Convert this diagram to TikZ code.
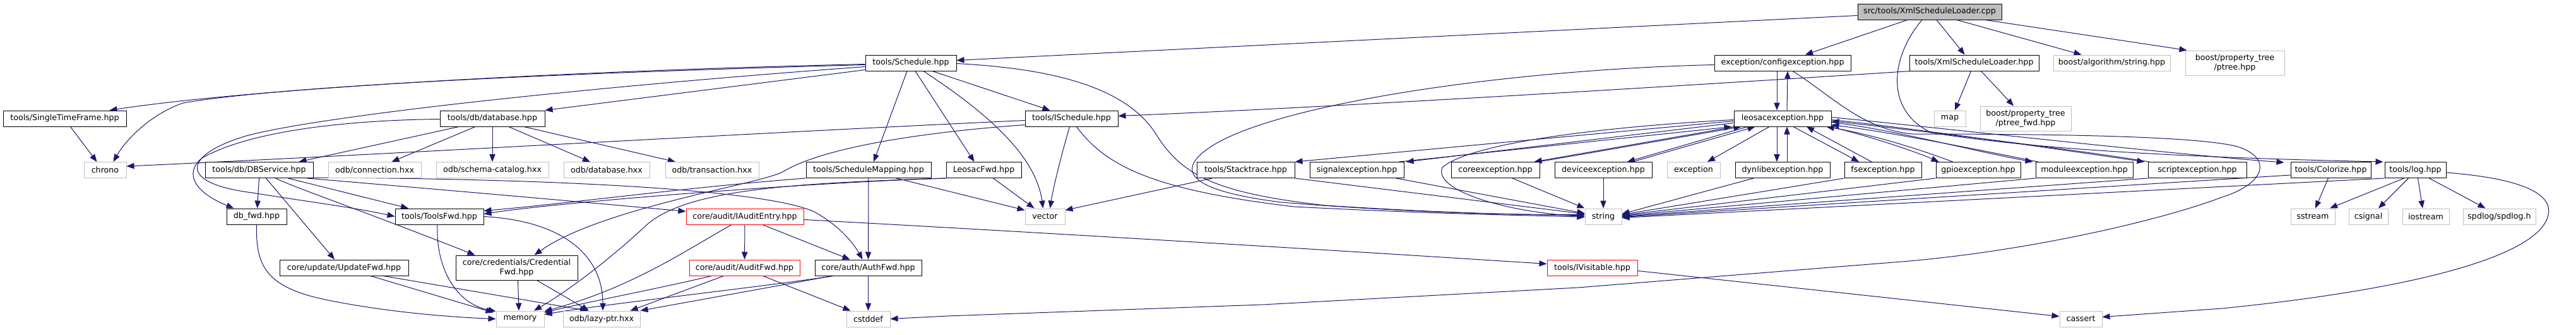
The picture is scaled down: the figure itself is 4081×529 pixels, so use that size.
\documentclass[tikz,border=0pt]{standalone}
\usepackage{fontspec}
\setmainfont{DejaVu Sans}
\usetikzlibrary{calc,arrows.meta}
\definecolor{edgec}{HTML}{191970}
\definecolor{extc}{HTML}{BFBFBF}
\definecolor{rootc}{HTML}{BFBFBF}
\pgfdeclarelayer{bg}
\pgfsetlayers{bg,main}
\tikzset{
 nd/.style={draw, line width=0.75pt, fill=white, minimum height=18.75pt, inner sep=0pt, font=\fontsize{9.5}{11}\selectfont, align=center},
 nb/.style={nd, draw=black},
 ng/.style={nd, draw=extc},
 nr/.style={nd, draw=red},
 e/.style={draw=edgec, line width=0.75pt, -{Triangle[length=9pt,width=7pt]}},
}
\begin{document}
\begin{tikzpicture}[x=0.75pt,y=-0.75pt]
\useasboundingbox (0,0) rectangle (4081,529);
% row 0
\node[nb, fill=rootc, minimum width=171pt] (root) at (3057,18.5) {src/tools/XmlScheduleLoader.cpp};
% row 1
\node[nb, minimum width=108pt] (sched) at (1443,99.5) {tools/Schedule.hpp};
\node[nb, minimum width=162pt] (cfgex) at (2824,99.5) {exception/configexception.hpp};
\node[nb, minimum width=153.75pt] (xmlh) at (3127.5,99.5) {tools/XmlScheduleLoader.hpp};
\node[ng, minimum width=138.75pt] (balgo) at (3345.5,99.5) {boost/algorithm/string.hpp};
\node[ng, minimum width=117.75pt, minimum height=29.25pt] (ptree) at (3540.5,99.5) {boost/property\_tree\\/ptree.hpp};
% row 2
\node[nb, minimum width=146.25pt] (stf) at (102.5,187.5) {tools/SingleTimeFrame.hpp};
\node[nb, minimum width=124.5pt] (dbh) at (780,187.5) {tools/db/database.hpp};
\node[nb, minimum width=110.25pt] (isched) at (1697.5,187.5) {tools/ISchedule.hpp};
\node[nb, minimum width=115.5pt] (le) at (2824,187.5) {leosacexception.hpp};
\node[ng, minimum width=37.5pt] (map) at (3089,187.5) {map};
\node[ng, minimum width=108pt, minimum height=29.25pt] (ptfwd) at (3209,187.5) {boost/property\_tree\\/ptree\_fwd.hpp};
% row 3
\node[ng, minimum width=50.25pt] (chrono) at (166.5,269) {chrono};
\node[nb, minimum width=128.25pt] (dbsvc) at (410.5,269) {tools/db/DBService.hpp};
\node[ng, minimum width=110.25pt] (odbconn) at (593.5,269) {odb/connection.hxx};
\node[ng, minimum width=133.5pt] (odbsc) at (780,269) {odb/schema-catalog.hxx};
\node[ng, minimum width=102pt] (odbdb) at (961,269) {odb/database.hxx};
\node[ng, minimum width=111pt] (odbtx) at (1128,269) {odb/transaction.hxx};
\node[nb, minimum width=148.5pt] (smap) at (1376,269) {tools/ScheduleMapping.hpp};
\node[nb, minimum width=89.25pt] (lfwd) at (1558.5,269) {LeosacFwd.hpp};
\node[nb, minimum width=116.25pt] (stack) at (1973.5,269) {tools/Stacktrace.hpp};
\node[nb, minimum width=111.75pt] (sigex) at (2149.5,269) {signalexception.hpp};
\node[nb, minimum width=105pt] (coreex) at (2369,269) {coreexception.hpp};
\node[nb, minimum width=115.5pt] (devex) at (2540,269) {deviceexception.hpp};
\node[ng, minimum width=63pt] (exc) at (2683,269) {exception};
\node[nb, minimum width=112.5pt] (dynex) at (2824,269) {dynlibexception.hpp};
\node[nb, minimum width=91.5pt] (fsex) at (2983,269) {fsexception.hpp};
\node[nb, minimum width=100.5pt] (gpioex) at (3134,269) {gpioexception.hpp};
\node[nb, minimum width=115.5pt] (modex) at (3302,269) {moduleexception.hpp};
\node[nb, minimum width=117pt] (screx) at (3481,269) {scriptexception.hpp};
\node[nb, minimum width=95.25pt] (colz) at (3692.5,269) {tools/Colorize.hpp};
\node[nb, minimum width=72.75pt] (logh) at (3826.5,269) {tools/log.hpp};
% row 4
\node[nb, minimum width=71.25pt] (dbfwd) at (406.5,342.5) {db\_fwd.hpp};
\node[nb, minimum width=105pt] (toolsfwd) at (696,342.5) {tools/ToolsFwd.hpp};
\node[nr, minimum width=139.5pt] (iaudit) at (1180,342.5) {core/audit/IAuditEntry.hpp};
\node[ng, minimum width=47.25pt] (vector) at (1655.5,342.5) {vector};
\node[ng, minimum width=43.5pt] (string) at (2540,342.5) {string};
\node[ng, minimum width=52.5pt] (sstream) at (3664,342.5) {sstream};
\node[ng, minimum width=46.5pt] (csignal) at (3752,342.5) {csignal};
\node[ng, minimum width=55.5pt] (iostream) at (3843,342.5) {iostream};
\node[ng, minimum width=86.25pt] (spdlog) at (3959.5,342.5) {spdlog/spdlog.h};
% row 5
\node[nb, minimum width=153pt] (updfwd) at (545,423.5) {core/update/UpdateFwd.hpp};
\node[nb, minimum width=144.75pt, minimum height=29.25pt] (credfwd) at (818.5,423.5) {core/credentials/Credential\\Fwd.hpp};
\node[nr, minimum width=131.25pt] (auditfwd) at (1179.5,423.5) {core/audit/AuditFwd.hpp};
\node[nb, minimum width=126.75pt] (authfwd) at (1375.5,423.5) {core/auth/AuthFwd.hpp};
\node[nr, minimum width=107.25pt] (ivis) at (2522.5,423.5) {tools/IVisitable.hpp};
% row 6
\node[ng, minimum width=57pt] (memory) at (824,504.5) {memory};
\node[ng, minimum width=91.5pt] (lazy) at (953,504.5) {odb/lazy-ptr.hxx};
\node[ng, minimum width=51.75pt] (cstddef) at (1375.5,504.5) {cstddef};
\node[ng, minimum width=50.25pt] (cassert) at (3296.5,504.5) {cassert};

\begin{pgfonlayer}{bg}
\fill[white] (0,0) rectangle (4081,529);
% root
\draw[e] ($(root.west)+(0,6)$) -- ($(sched.east)+(0,-4)$);
\draw[e] ($(root.south)+(-35,0)$) -- ($(cfgex.north)+(36,0)$);
\draw[e] ($(root.south)+(11,0)$) -- ($(xmlh.north)+(-15,0)$);
\draw[e] ($(root.south)+(43,0)$) -- ($(balgo.north)+(-48,0)$);
\draw[e] ($(root.south)+(88,0)$) -- ($(ptree.north west)+(3,0)$);
\draw[e] ($(root.south)+(-12,0)$) .. controls (2995,90) and (2985,175) .. (3060,210) .. controls (3200,232) and (3400,248) .. ($(logh.north west)+(-2,0)$);
% configexception
\draw[e] ($(cfgex.south)+(16,0)$) .. controls (2900,150) and (2950,205) .. (3030,212) .. controls (3250,212) and (3480,215) .. (3545,232) .. controls (3600,250) and (3590,290) .. (3520,312) .. controls (3420,350) and (3200,400) .. (3000,415) -- (2500,455) -- (2000,482) -- (1500,500) -- (cstddef.east);
\draw[e] ($(cfgex.south)+(-9,0)$) -- ($(le.north)+(-9,0)$);
\draw[e] ($(le.north)+(7,0)$) -- ($(cfgex.south)+(8,0)$);
\draw[e] ($(cfgex.west)+(0,3)$) .. controls (2400,110) and (2050,160) .. (1930,225) .. controls (1860,265) and (1870,300) .. (2030,320) .. controls (2250,338) and (2420,340) .. ($(string.west)+(0,-3)$);
% leosacexception
\draw[e] ($(le.west)+(0,2)$) .. controls (2550,200) and (2330,225) .. (2285,265) .. controls (2270,300) and (2380,335) .. (string.west);
\draw[e] ($(le.south)+(-9,0)$) -- ($(dynex.north)+(-9,0)$);
\draw[e] ($(dynex.north)+(7,0)$) -- ($(le.south)+(7,0)$);
\draw[e] ($(le.south)+(-21,0)$) -- ($(exc.north)+(22,0)$);
\draw[e] ($(le.south)+(17,0)$) -- ($(fsex.north)+(-38,0)$);
\draw[e] ($(fsex.north)+(-18,0)$) -- ($(le.south)+(38,0)$);
\draw[e] ($(le.west)+(0,4)$) -- (stack.north east);
\draw[e] ($(le.west)+(0,7)$) -- ($(sigex.north east)+(3,0)$);
\draw[e] ($(sigex.north east)+(-8,0)$) -- ($(le.south west)+(-3,0)$);
\draw[e] ($(le.south west)+(2,0)$) -- ($(coreex.north east)+(-9,0)$);
\draw[e] ($(coreex.north east)+(-2,0)$) -- ($(le.south west)+(12,0)$);
\draw[e] ($(le.south west)+(22,0)$) -- ($(devex.north)+(38,0)$);
\draw[e] ($(devex.north)+(46,0)$) -- ($(le.south west)+(34,0)$);
\draw[e] ($(le.south east)+(-2,0)$) .. controls (2960,215) and (3030,238) .. ($(gpioex.north west)+(5,0)$);
\draw[e] ($(gpioex.north west)+(27,0)$) .. controls (3030,232) and (2960,212) .. ($(le.south east)+(-8,0)$);
\draw[e] ($(le.east)+(0,6)$) .. controls (3000,205) and (3130,240) .. ($(modex.north west)+(-4,0)$);
\draw[e] ($(modex.north west)+(4,0)$) .. controls (3130,236) and (3000,210) .. ($(le.east)+(0,10)$);
\draw[e] ($(le.east)+(0,2)$) .. controls (3050,205) and (3300,242) .. ($(screx.north west)+(-5,0)$);
\draw[e] ($(screx.north west)+(2,0)$) .. controls (3300,238) and (3050,208) .. ($(le.east)+(0,4)$);
\draw[e] ($(le.east)+(0,-2)$) .. controls (3100,205) and (3450,245) .. ($(colz.north west)+(-10,1)$);
% into string
\draw[e] ($(sched.east)+(0,1)$) .. controls (1700,110) and (1790,150) .. (1830,210) .. controls (1870,275) and (1920,305) .. (2100,325) .. controls (2300,338) and (2430,340) .. ($(string.west)+(0,-2)$);
\draw[e] ($(isched.south)+(8,0)$) .. controls (1750,260) and (1820,300) .. (2050,327) .. controls (2300,340) and (2450,341) .. ($(string.west)+(0,1)$);
\draw[e] (stack.south east) -- ($(string.west)+(0,-4)$);
\draw[e] ($(stack.south west)+(25,0)$) -- ($(vector.east)+(0,-10)$);
\draw[e] ($(sigex.south)+(62,0)$) -- ($(string.west)+(0,-5)$);
\draw[e] ($(coreex.south)+(27,0)$) -- (string.north west);
\draw[e] (devex) -- (string);
\draw[e] ($(dynex.south)+(-46,0)$) -- ($(string.east)+(0,-4)$);
\draw[e] (fsex.south west) -- ($(string.east)+(0,-3)$);
\draw[e] (gpioex.south west) -- ($(string.east)+(0,-2)$);
\draw[e] (modex.south west) -- ($(string.east)+(0,-1)$);
\draw[e] (screx.south west) -- (string.east);
\draw[e] ($(colz.west)+(0,8)$) -- ($(string.east)+(0,1)$);
\draw[e] (logh.south west) -- ($(string.east)+(0,2)$);
% XmlScheduleLoader.hpp
\draw[e] ($(xmlh.south)+(-5,0)$) -- ($(map.north)+(8,0)$);
\draw[e] ($(xmlh.south)+(11,0)$) -- ($(ptfwd.north)+(-19,0)$);
\draw[e] ($(xmlh.south west)+(2,0)$) .. controls (2600,140) and (2100,170) .. ($(isched.east)+(0,-4)$);
% Schedule.hpp
\draw[e] ($(sched.west)+(0,2)$) .. controls (900,112) and (400,140) .. ($(stf.north east)+(-27,0)$);
\draw[e] ($(sched.west)+(0,3)$) .. controls (800,118) and (420,140) .. (290,163) .. controls (240,180) and (200,220) .. ($(chrono.north)+(13,0)$);
\draw[e] ($(sched.south west)+(0,-2)$) -- (dbh.north east);
\draw[e] ($(sched.west)+(0,6)$) .. controls (900,140) and (500,185) .. (390,215) .. controls (290,245) and (280,290) .. (400,305) .. controls (480,318) and (560,328) .. (toolsfwd.west);
\draw[e] ($(sched.south)+(-6,0)$) -- ($(smap.north)+(8,0)$);
\draw[e] ($(sched.south)+(7,0)$) -- ($(lfwd.north)+(-15,0)$);
\draw[e] ($(sched.south)+(20,0)$) .. controls (1550,170) and (1640,240) .. ($(vector.north)+(-3,0)$);
\draw[e] ($(sched.south)+(34,0)$) -- ($(isched.north)+(-34,0)$);
\draw[e] ($(stf.south)+(9,0)$) -- ($(chrono.north)+(-13,0)$);
% database.hpp
\draw[e] ($(dbh.south)+(-27,0)$) -- ($(odbconn.north)+(27,0)$);
\draw[e] (dbh) -- (odbsc);
\draw[e] ($(dbh.south)+(26,0)$) -- ($(odbdb.north)+(-26,0)$);
\draw[e] ($(dbh.south)+(50,0)$) -- ($(odbtx.north)+(-58,0)$);
\draw[e] ($(dbh.south)+(-53,0)$) -- ($(dbsvc.north)+(63,0)$);
\draw[e] ($(dbh.west)+(0,1)$) .. controls (560,190) and (400,205) .. (320,250) .. controls (290,275) and (310,305) .. ($(dbfwd.north)+(-36,0)$);
% DBService.hpp
\draw[e] (dbsvc.south) -- ($(dbfwd.north)+(1,0)$);
\draw[e] ($(dbsvc.south)+(11,0)$) -- ($(updfwd.north)+(-15,0)$);
\draw[e] ($(dbsvc.south)+(26,0)$) .. controls (470,298) and (560,328) .. ($(credfwd.north)+(-66,0)$);
\draw[e] ($(dbsvc.south)+(46,0)$) -- ($(toolsfwd.north)+(-49,0)$);
\draw[e] ($(dbsvc.south east)+(0,-1)$) .. controls (800,282) and (1200,295) .. (1290,335) .. controls (1335,360) and (1355,390) .. ($(authfwd.north)+(-9,0)$);
\draw[e] ($(dbsvc.south east)+(-10,0)$) .. controls (700,300) and (950,322) .. ($(iaudit.west)+(0,-8)$);
% ISchedule.hpp
\draw[e] ($(isched.west)+(0,3)$) .. controls (1200,210) and (600,245) .. ($(chrono.east)+(0,-6)$);
\draw[e] ($(isched.west)+(0,10)$) .. controls (1450,210) and (1300,235) .. (1240,272) .. controls (1200,292) and (950,330) .. ($(credfwd.north)+(28,0)$);
\draw[e] ($(isched.south)+(-3,0)$) .. controls (1680,250) and (1668,300) .. ($(vector.north)+(8,0)$);
% ScheduleMapping.hpp
\draw[e] (smap) -- (authfwd);
\draw[e] ($(smap.south)+(44,0)$) -- ($(vector.west)+(0,-10)$);
\draw[e] (smap.south west) .. controls (1100,295) and (900,322) .. ($(toolsfwd.east)+(0,-9)$);
% LeosacFwd.hpp
\draw[e] (lfwd.south west) .. controls (1300,288) and (900,318) .. ($(toolsfwd.east)+(0,-4)$);
\draw[e] (lfwd.south west) .. controls (1250,290) and (1080,300) .. (1020,360) .. controls (960,415) and (900,460) .. ($(memory.north)+(22,0)$);
\draw[e] ($(lfwd.south)+(15,0)$) -- ($(vector.north)+(-17,0)$);
% IAuditEntry.hpp
\draw[e] (iaudit) -- (auditfwd);
\draw[e] ($(iaudit.south)+(28,0)$) -- ($(authfwd.north)+(-29,0)$);
\draw[e] ($(iaudit.south)+(-21,0)$) .. controls (1080,400) and (1000,455) .. ($(memory.north east)+(0,1)$);
\draw[e] ($(iaudit.east)+(0,5)$) .. controls (1600,365) and (2100,395) .. ($(ivis.west)+(0,-6)$);
% AuditFwd.hpp
\draw[e] ($(auditfwd.south)+(-52,0)$) .. controls (1050,455) and (920,480) .. ($(memory.north east)+(0,3)$);
\draw[e] ($(auditfwd.south)+(-33,0)$) -- ($(lazy.north east)+(-16,0)$);
\draw[e] ($(auditfwd.south)+(29,0)$) -- ($(cstddef.north)+(-28,0)$);
% AuthFwd.hpp
\draw[e] (authfwd) -- (cstddef);
\draw[e] ($(authfwd.south west)+(30,0)$) .. controls (1200,455) and (950,482) .. ($(memory.north east)+(0,6)$);
\draw[e] ($(authfwd.south west)+(28,0)$) -- (lazy.north east);
% ToolsFwd.hpp
\draw[e] ($(toolsfwd.south)+(-3,0)$) .. controls (690,420) and (720,480) .. ($(memory.north west)+(0,1)$);
\draw[e] (toolsfwd.east) .. controls (900,350) and (955,410) .. ($(lazy.north)+(2,0)$);
% UpdateFwd.hpp
\draw[e] ($(updfwd.south)+(42,0)$) -- ($(memory.north west)+(-4,3)$);
\draw[e] ($(updfwd.south)+(62,0)$) -- ($(lazy.north)+(-22,0)$);
% db_fwd.hpp
\draw[e] (dbfwd.south) .. controls (405,420) and (420,455) .. (520,475) .. controls (620,495) and (720,502) .. (memory.west);
% CredentialFwd.hpp
\draw[e] ($(credfwd.south)+(2,0)$) -- ($(memory.north)+(-2,0)$);
\draw[e] ($(credfwd.south)+(32,0)$) -- ($(lazy.north)+(-20,0)$);
% log.hpp, Colorize.hpp
\draw[e] ($(logh.south)+(-18,0)$) -- ($(sstream.north)+(27,0)$);
\draw[e] ($(logh.south)+(-11,0)$) -- ($(csignal.north)+(16,0)$);
\draw[e] ($(logh.south)+(4,0)$) -- ($(iostream.north)+(-5,0)$);
\draw[e] ($(logh.south)+(22,0)$) -- ($(spdlog.north)+(-22,0)$);
\draw[e] ($(logh.east)+(0,4)$) .. controls (3990,282) and (4045,305) .. (4037,340) .. controls (4025,400) and (3850,455) .. (3520,488) -- ($(cassert.east)+(0,-3)$);
\draw[e] ($(colz.south)+(-4,0)$) -- ($(sstream.north)+(4,0)$);
% IVisitable.hpp
\draw[e] ($(ivis.east)+(0,5)$) -- ($(cassert.west)+(0,-4)$);
\end{pgfonlayer}
\end{tikzpicture}
\end{document}
